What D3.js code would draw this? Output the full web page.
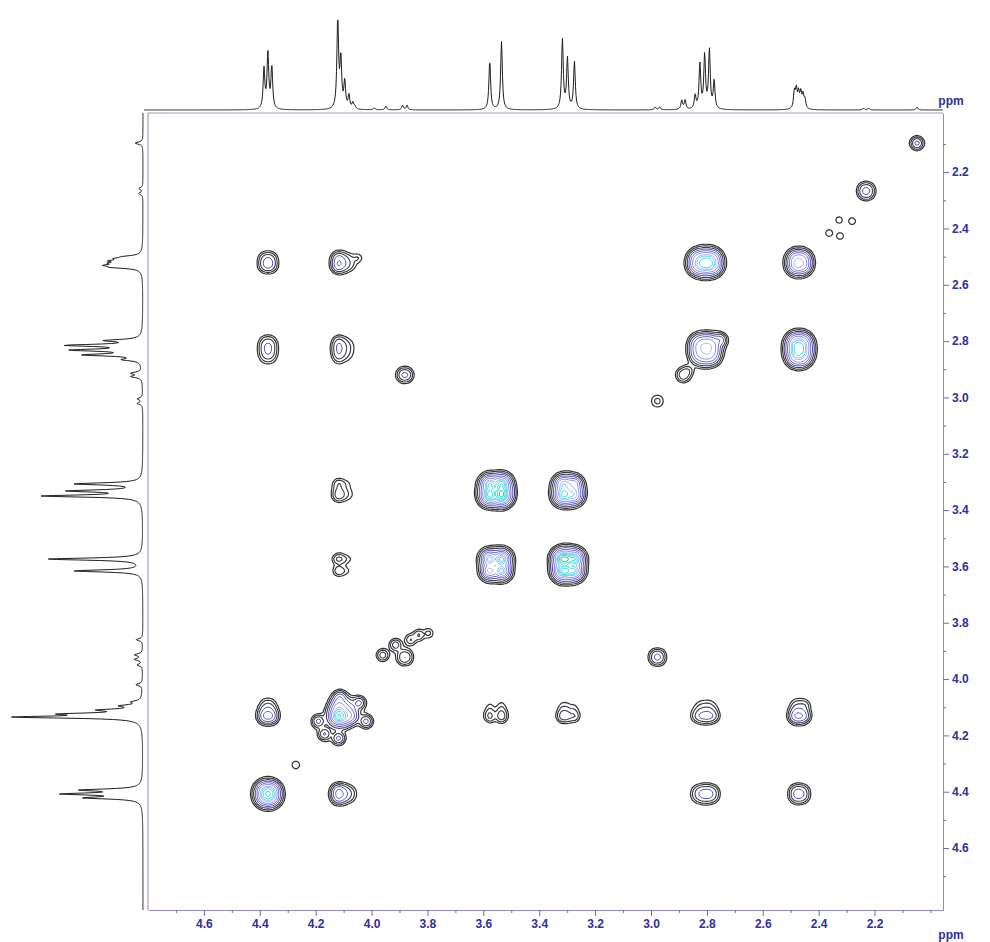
<!DOCTYPE html>
<html>
<head>
<meta charset="utf-8">
<script src="https://cdn.jsdelivr.net/npm/d3@7"></script>
<style>
  html, body { margin: 0; padding: 0; background: #ffffff; }
  svg { display: block; }
  text { font-family: "Liberation Sans", Arial, sans-serif; font-weight: bold; }
</style>
</head>
<body>
<svg id="chart" width="990" height="942"></svg>
<script>
// ---- spin systems (COSY) ----
const spinNames = ["a", "b", "c", "d", "e", "f", "g", "h", "i", "j", "k"];
// chemical shifts along F2 (horizontal) and F1 (vertical), ppm
const shiftF2 = [4.371, 4.117, 3.556, 3.299, 2.808, 2.468, 3.881, 2.977, 2.884, 2.230, 2.048];
const shiftF1 = [4.408, 4.131, 3.595, 3.332, 2.832, 2.519, 3.922, 3.013, 2.920, 2.267, 2.097];
// multiplet line offsets (ppm) and relative line weights
const lineOffsets = [
  [0.014, 0, -0.014],
  [0.004, -0.007, -0.021, -0.036, -0.05],
  [0.021, -0.021],
  [0.018, 0, -0.025],
  [0.034, 0.017, 0, -0.017, -0.034],
  [0.019, 0.012, 0.004, -0.004, -0.012, -0.019],
  [0.008, -0.008],
  [0.008, -0.008],
  [0.006, -0.006],
  [0.009, -0.009],
  [0]
];
const lineWeights = [
  [0.72, 1, 0.77],
  [1, 0.55, 0.3, 0.15, 0.07],
  [0.72, 1],
  [1, 0.72, 0.68],
  [0.23, 0.76, 0.91, 1, 0.47],
  [0.9, 1, 0.8, 0.85, 0.7, 0.5],
  [1, 1],
  [1, 1],
  [1, 1],
  [1, 1],
  [1]
];
// 1D projections: line height per spin (fraction of full scale)
const topIntensity  = [0.60, 0.97, 0.74, 0.76, 0.64, 0.20, 0.05, 0.03, 0.10, 0.02, 0.03];
const leftIntensity = [0.56, 0.92, 0.72, 0.74, 0.55, 0.20, 0.06, 0.04, 0.08, 0.03, 0.06];
// extra weak 1D lines: [ppm, height]
const topExtraLines  = [[3.949, 0.04], [3.99, 0.02], [4.06, 0.03]];
const leftExtraLines = [[3.86, 0.05], [3.95, 0.04], [4.02, 0.05]];

// ---- 2D correlation peaks: [column spin, row spin, intensity] ----
const crossPeaks = [
  ["a", "f", 0.6],  ["b", "f", 0.9],  ["e", "f", 9],  ["f", "f", 4.4],
  ["a", "e", 0.5],  ["b", "e", 0.5],  ["e", "e", 4],  ["f", "e", 9],
  ["b", "d", 0.35], ["c", "d", 16],   ["d", "d", 7.5],
  ["b", "c", 0.25], ["c", "c", 8],    ["d", "c", 16],
  ["g", "i", 0.5],  ["h", "g", 0.5],
  ["a", "b", 1.2],  ["b", "b", 10],   ["c", "b", 0.35], ["d", "b", 0.35], ["e", "b", 0.6], ["f", "b", 1.0],
  ["a", "a", 10],   ["b", "a", 1.2],  ["e", "a", 0.6],  ["f", "a", 0.6],
  ["g", "g", 0.4],  ["h", "h", 0.12], ["i", "i", 0.35], ["j", "j", 0.5], ["k", "k", 0.5]
];
// isolated weak signals: [F2 ppm, F1 ppm, intensity]
const minorPeaks = [
  [2.327, 2.370, 0.08], [2.280, 2.374, 0.08], [2.363, 2.416, 0.08], [2.323, 2.427, 0.08],
  [4.049, 2.505, 0.09], [4.271, 4.305, 0.09], [2.448, 4.092, 0.07],
  [4.113, 4.066, 0.6], [4.045, 4.085, 0.5], [4.190, 4.150, 0.5], [4.020, 4.150, 0.5],
  [4.118, 4.210, 0.5], [4.168, 4.195, 0.45],
  [3.960, 3.915, 0.3], [3.914, 3.879, 0.3], [3.860, 3.860, 0.2], [3.831, 3.844, 0.2], [3.796, 3.837, 0.12],
  [2.752, 2.796, 0.6], [2.868, 2.905, 0.15]
];
// contour levels
const contourLevels = [0.05, 0.1, 0.2, 0.4, 0.8, 1.6, 3.2, 4.5, 6.4, 9, 12.8];

// ---- axis ticks ----
const xTickLabels = ["4.6", "4.4", "4.2", "4.0", "3.8", "3.6", "3.4", "3.2", "3.0", "2.8", "2.6", "2.4", "2.2"];
const xMinorTicks = [4.7, 4.5, 4.3, 4.1, 3.9, 3.7, 3.5, 3.3, 3.1, 2.9, 2.7, 2.5, 2.3, 2.1, 2.0];
const yTickLabels = ["2.2", "2.4", "2.6", "2.8", "3.0", "3.2", "3.4", "3.6", "3.8", "4.0", "4.2", "4.4", "4.6"];
const yMinorTicks = [2.1, 2.3, 2.5, 2.7, 2.9, 3.1, 3.3, 3.5, 3.7, 3.9, 4.1, 4.3, 4.5, 4.7];
const unitLabel = "ppm";

// ---- layout ----
const X0 = 148, X1 = 943, Y0 = 113, Y1 = 910;
const topBase = 110, topHeight = 92;
const leftBase = 143, leftWidth = 131;
const axisColor = "#2f2fa0";
const frameColor = "#8c8cc8";
const levelColors = ["#333333", "#383838", "#404050", "#5858c4", "#6e6ed6", "#9494e8",
                     "#b4b8f4", "#6ad8ee", "#4ee0e6", "#44dcd0", "#3cc890"];
const levelWidths = [1.2, 1.15, 1.1, 1, 1, 1, 1, 1, 1, 1, 1];

const svg = d3.select("#chart");
const x = d3.scaleLinear().domain([4.8, 1.955]).range([X0, X1]);
const y = d3.scaleLinear().domain([1.99, 4.82]).range([Y0, Y1]);

const spinIndex = new Map(spinNames.map((n, i) => [n, i]));
const pxX = Math.abs(x(1) - x(0));
const pxY = Math.abs(y(1) - y(0));

// ---- 2D intensity field on a grid ----
// each multiplet component: narrow core plus a broader skirt
const cell = 2;
const nx = Math.ceil((X1 - X0) / cell), ny = Math.ceil((Y1 - Y0) / cell);
const field = new Float64Array(nx * ny);
const sigCore = 3.0, sigSkirt = 5.5, skirt = 0.15;

function addPeak(cx, cy, offX, wX, offY, wY, amp) {
  const R = 36;
  const i0 = Math.max(0, Math.floor((cx - R - X0) / cell)), i1 = Math.min(nx - 1, Math.ceil((cx + R - X0) / cell));
  const j0 = Math.max(0, Math.floor((cy - R - Y0) / cell)), j1 = Math.min(ny - 1, Math.ceil((cy + R - Y0) / cell));
  const w = i1 - i0 + 1, h = j1 - j0 + 1;
  const tmp = new Float64Array(w * h);
  const k1 = 1 / (2 * sigCore * sigCore), k2 = 1 / (2 * sigSkirt * sigSkirt);
  let mx = 0;
  for (let j = 0; j < h; j++) {
    const py = Y0 + (j0 + j + 0.5) * cell;
    for (let i = 0; i < w; i++) {
      const px = X0 + (i0 + i + 0.5) * cell;
      let s = 0;
      for (let a = 0; a < offX.length; a++) {
        const dx = px - cx - offX[a];
        for (let b = 0; b < offY.length; b++) {
          const dy = py - cy - offY[b];
          const r2 = dx * dx + dy * dy;
          s += wX[a] * wY[b] * ((1 - skirt) * Math.exp(-r2 * k1) + skirt * Math.exp(-r2 * k2));
        }
      }
      tmp[j * w + i] = s;
      if (s > mx) mx = s;
    }
  }
  if (mx <= 0) return;
  for (let j = 0; j < h; j++)
    for (let i = 0; i < w; i++)
      field[(j0 + j) * nx + (i0 + i)] += amp * tmp[j * w + i] / mx;
}

crossPeaks.forEach(([cs, rs, amp]) => {
  const ci = spinIndex.get(cs), ri = spinIndex.get(rs);
  addPeak(x(shiftF2[ci]), y(shiftF1[ri]),
          lineOffsets[ci].map(o => -o * pxX), lineWeights[ci],
          lineOffsets[ri].map(o => o * pxY), lineWeights[ri], amp);
});
minorPeaks.forEach(([f2, f1, amp]) => {
  addPeak(x(f2), y(f1), [0], [1], [0], [1], amp);
});

const contours = d3.contours().size([nx, ny]).thresholds(contourLevels)(field);
const gridPath = d3.geoPath(d3.geoIdentity().scale(cell).translate([X0, Y0]));

svg.append("defs").append("clipPath").attr("id", "plotClip")
  .append("rect").attr("x", X0).attr("y", Y0).attr("width", X1 - X0).attr("height", Y1 - Y0);

svg.append("g").attr("clip-path", "url(#plotClip)")
  .selectAll("path").data(contours).join("path")
  .attr("d", gridPath)
  .attr("fill", "none")
  .attr("stroke", (d, i) => levelColors[i])
  .attr("stroke-width", (d, i) => levelWidths[i])
  .attr("stroke-linejoin", "round");

// ---- 1D projections ----
function spectrum(ppm, shifts, intensities, extras, hw) {
  let s = 0;
  for (let k = 0; k < shifts.length; k++) {
    const offs = lineOffsets[k], ws = lineWeights[k];
    for (let m = 0; m < offs.length; m++) {
      const u = (ppm - shifts[k] - offs[m]) / hw;
      s += intensities[k] * ws[m] / (1 + u * u);
    }
  }
  extras.forEach(([p, hgt]) => { const u = (ppm - p) / hw; s += hgt / (1 + u * u); });
  return s;
}

const topPts = d3.range(X0 - 4, X1 + 0.01, 0.5).map(px => [px, spectrum(x.invert(px), shiftF2, topIntensity, topExtraLines, 0.0036)]);
svg.append("path")
  .datum(topPts)
  .attr("d", d3.line().x(d => d[0]).y(d => topBase - Math.min(d[1], 1.05) * topHeight))
  .attr("fill", "none").attr("stroke", "#1e1e1e").attr("stroke-width", 1);

const leftPts = d3.range(Y0, Y1 + 0.01, 0.5).map(py => [py, spectrum(y.invert(py), shiftF1, leftIntensity, leftExtraLines, 0.0045)]);
svg.append("path")
  .datum(leftPts)
  .attr("d", d3.line().y(d => d[0]).x(d => leftBase - Math.min(d[1], 1.05) * leftWidth))
  .attr("fill", "none").attr("stroke", "#1e1e1e").attr("stroke-width", 1);

// ---- frame ----
svg.append("line").attr("x1", X0).attr("x2", X0).attr("y1", Y0).attr("y2", Y1)
  .attr("stroke", frameColor).attr("stroke-width", 1);
svg.append("line").attr("x1", X0).attr("x2", X1).attr("y1", Y0).attr("y2", Y0)
  .attr("stroke", "#9a9ab8").attr("stroke-width", 1);

// ---- axes ----
const xMajor = xTickLabels.map(Number);
const yMajor = yTickLabels.map(Number);

const gx = svg.append("g").attr("transform", `translate(0,${Y1})`);
gx.call(d3.axisBottom(x).tickValues(xMajor).tickSize(6).tickSizeOuter(0).tickPadding(3)
  .tickFormat((d, i) => xTickLabels[i]));
gx.append("g").call(d3.axisBottom(x).tickValues(xMinorTicks).tickSize(3).tickFormat(""))
  .select(".domain").remove();

const gy = svg.append("g").attr("transform", `translate(${X1},0)`);
gy.call(d3.axisRight(y).tickValues(yMajor).tickSize(6).tickSizeOuter(0).tickPadding(3)
  .tickFormat((d, i) => yTickLabels[i]));
gy.append("g").call(d3.axisRight(y).tickValues(yMinorTicks).tickSize(3).tickFormat(""))
  .select(".domain").remove();

svg.selectAll(".domain").attr("stroke", frameColor);
svg.selectAll(".tick line").attr("stroke", "#6a6ab4");
svg.selectAll(".tick text").attr("fill", axisColor).attr("font-size", 12)
  .attr("font-family", "Liberation Sans, Arial, sans-serif").attr("font-weight", "bold");

svg.append("text").attr("x", 951).attr("y", 105).attr("text-anchor", "middle")
  .attr("font-size", 12).attr("fill", axisColor).text(unitLabel);
svg.append("text").attr("x", 951).attr("y", 939).attr("text-anchor", "middle")
  .attr("font-size", 12).attr("fill", axisColor).text(unitLabel);
</script>
</body>
</html>
